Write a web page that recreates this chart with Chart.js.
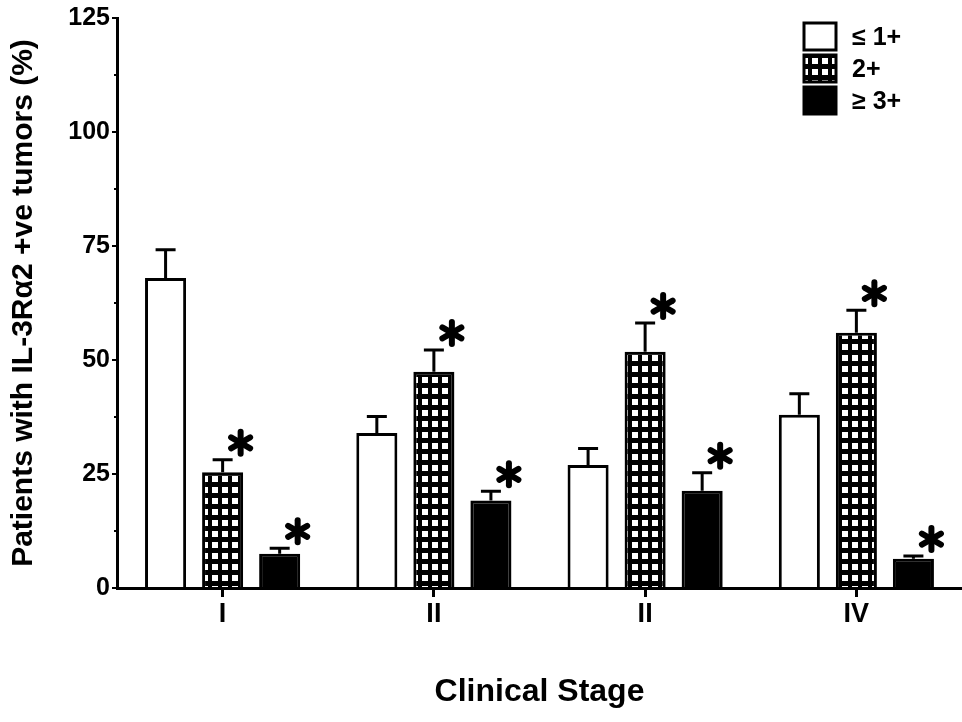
<!DOCTYPE html>
<html>
<head>
<meta charset="utf-8">
<script src="https://cdn.jsdelivr.net/npm/chart.js@4/dist/chart.umd.min.js"></script>
<style>
  body { margin: 0; background: #fff; }
  #stage { display: block; }
</style>
</head>
<body>
<canvas id="stage" width="962" height="722"></canvas>
<script>
// data
const stages = ['I', 'II', 'II', 'IV'];
const seriesNames = ['\u2264 1+', '2+', '\u2265 3+'];
const lowVals = [68, 34, 27, 38];
const lowSem = [6.2, 3.6, 3.6, 4.6];
const midVals = [25.4, 47.4, 51.8, 56];
const midSem = [2.7, 4.8, 6.3, 4.9];
const highVals = [7.5, 19.2, 21.3, 6.4];
const highSem = [1.2, 2.0, 4.0, 0.6];
const midStars = [true, true, true, true];
const highStars = [true, true, true, true];
const yTicks = [0, 25, 50, 75, 100, 125];

// grid hatch for the 2+ bars
const tile = document.createElement('canvas');
tile.width = 10; tile.height = 11;
const tctx = tile.getContext('2d');
tctx.fillStyle = '#000';
tctx.fillRect(0, 0, 10, 11);
tctx.fillStyle = '#fff';
tctx.fillRect(2, 3, 6, 6);
const hatch = document.getElementById('stage').getContext('2d').createPattern(tile, 'repeat');

const sems = [lowSem, midSem, highSem];
const stars = [null, midStars, highStars];

function drawStar(ctx, x, y, r) {
  ctx.save();
  ctx.strokeStyle = '#000';
  ctx.lineWidth = 6;
  ctx.lineCap = 'round';
  for (let k = 0; k < 3; k++) {
    const a = Math.PI / 2 + k * Math.PI / 3;
    ctx.beginPath();
    ctx.moveTo(x - r * Math.cos(a), y - r * Math.sin(a));
    ctx.lineTo(x + r * Math.cos(a), y + r * Math.sin(a));
    ctx.stroke();
  }
  ctx.restore();
}

const extras = {
  id: 'extras',
  afterDatasetsDraw(chart) {
    const ctx = chart.ctx;
    const y = chart.scales.y;
    // error bars + stars
    chart.data.datasets.forEach((ds, i) => {
      const meta = chart.getDatasetMeta(i);
      meta.data.forEach((bar, j) => {
        const top = y.getPixelForValue(ds.data[j] + sems[i][j]);
        const base = y.getPixelForValue(ds.data[j]);
        ctx.save();
        ctx.strokeStyle = '#000';
        ctx.lineWidth = 3;
        ctx.beginPath();
        ctx.moveTo(bar.x, base);
        ctx.lineTo(bar.x, top);
        ctx.moveTo(bar.x - 10, top);
        ctx.lineTo(bar.x + 10, top);
        ctx.stroke();
        ctx.restore();
        if (stars[i] && stars[i][j]) {
          drawStar(ctx, bar.x + 18, top - 17, 11);
        }
      });
    });
    // minor ticks on y axis
    ctx.save();
    ctx.strokeStyle = '#000';
    ctx.lineWidth = 2;
    for (let v = 12.5; v < 125; v += 25) {
      const py = y.getPixelForValue(v);
      ctx.beginPath();
      ctx.moveTo(y.right - 3, py);
      ctx.lineTo(y.right, py);
      ctx.stroke();
    }
    ctx.restore();
    // legend, top right
    const area = chart.chartArea;
    const bx = area.right - 158, by = 23;
    chart.data.datasets.forEach((ds, i) => {
      const top = by + i * 32;
      ctx.save();
      ctx.fillStyle = ds.backgroundColor;
      ctx.fillRect(bx, top, 32, 27);
      ctx.strokeStyle = '#000';
      ctx.lineWidth = 3;
      ctx.strokeRect(bx, top, 32, 27);
      ctx.fillStyle = '#000';
      ctx.font = 'bold 25px "Liberation Sans", Arial, sans-serif';
      ctx.textBaseline = 'middle';
      ctx.fillText(ds.label, bx + 48, top + 15);
      ctx.restore();
    });
  }
};

Chart.defaults.font.family = '"Liberation Sans", Arial, sans-serif';
Chart.defaults.font.weight = 'bold';
Chart.defaults.color = '#000';

new Chart(document.getElementById('stage'), {
  type: 'bar',
  data: {
    labels: stages,
    datasets: [
      { label: seriesNames[0], data: lowVals, backgroundColor: '#fff', borderColor: '#000', borderWidth: 3 },
      { label: seriesNames[1], data: midVals, backgroundColor: hatch, borderColor: '#000', borderWidth: 3 },
      { label: seriesNames[2], data: highVals, backgroundColor: '#000', borderColor: '#000', borderWidth: 3 }
    ]
  },
  options: {
    responsive: false,
    animation: false,
    devicePixelRatio: 1,
    layout: { padding: { top: 18, right: 0, left: 0, bottom: 0 } },
    plugins: { legend: { display: false }, tooltip: { enabled: false } },
    datasets: { bar: { categoryPercentage: 0.81, barPercentage: 0.72 } },
    scales: {
      x: {
        grid: { offset: false, drawOnChartArea: false, color: '#000', lineWidth: 3, tickLength: 9 },
        border: { color: '#000', width: 3 },
        ticks: { font: { size: 27, weight: 'bold' }, padding: 1 },
        title: { display: true, text: 'Clinical Stage', font: { size: 32, weight: 'bold' }, padding: { top: 40, bottom: 11 } },
        afterFit(s) { s.height = 134; }
      },
      y: {
        min: 0, max: 125,
        afterBuildTicks(s) { s.ticks = yTicks.map(v => ({ value: v })); },
        grid: { drawOnChartArea: false, color: '#000', lineWidth: 2, tickLength: 5 },
        border: { color: '#000', width: 3 },
        ticks: { font: { size: 25, weight: 'bold' }, padding: 2 },
        title: { display: true, text: 'Patients with IL-3R\u03b12 +ve tumors (%)', font: { size: 30, weight: 'bold' }, padding: { top: 6, bottom: 0 } },
        afterFit(s) { s.width = 117; }
      }
    }
  },
  plugins: [extras]
});
</script>
</body>
</html>
